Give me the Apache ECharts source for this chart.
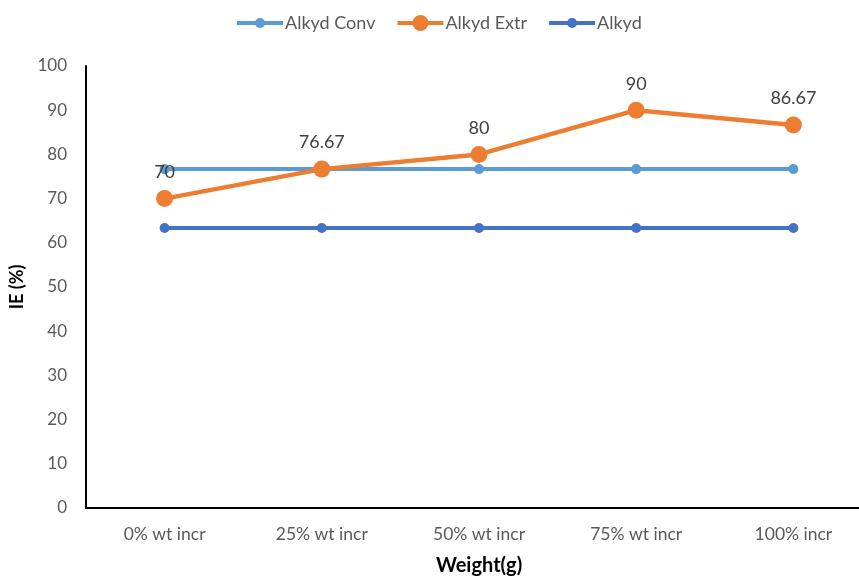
<!DOCTYPE html>
<html>
<head>
<meta charset="utf-8">
<script src="https://cdn.jsdelivr.net/npm/echarts@6/dist/echarts.min.js"></script>
<style>
  html, body { margin: 0; padding: 0; background: #fff; }
  #chart { width: 859px; height: 576px; }
</style>
</head>
<body>
<div id="chart"></div>
<script>
// Inhibition efficiency by weight increment
const categories = ['0% wt incr', '25% wt incr', '50% wt incr', '75% wt incr', '100% incr'];
const alkydConv = [76.67, 76.67, 76.67, 76.67, 76.67];
const alkydExtr = [70, 76.67, 80, 90, 86.67];
const alkyd = [63.33, 63.33, 63.33, 63.33, 63.33];
const yTicks = [0, 10, 20, 30, 40, 50, 60, 70, 80, 90, 100];

const font = 'Lato, "Open Sans", sans-serif';

// Legend glyphs: a thick line with a centred dot, sized like the series markers
const smallIcon = 'path://M0,3 L46,3 L46,7 L0,7 Z M18,5 A5,5 0 1,1 28,5 A5,5 0 1,1 18,5 Z';
const bigIcon = 'path://M0,6 L46,6 L46,10 L0,10 Z M15,8 A8,8 0 1,1 31,8 A8,8 0 1,1 15,8 Z';

const chart = echarts.init(document.getElementById('chart'), null, { renderer: 'canvas' });

chart.setOption({
  animation: false,
  textStyle: { fontFamily: font },
  legend: {
    top: 9,
    left: 232,
    itemWidth: 46,
    itemHeight: 16,
    itemGap: 22,
    symbolKeepAspect: true,
    textStyle: { color: '#595959', fontSize: 18, fontFamily: font, padding: [0, 0, 0, -3] },
    data: [
      { name: 'Alkyd Conv', icon: smallIcon },
      { name: 'Alkyd Extr', icon: bigIcon },
      { name: 'Alkyd', icon: smallIcon }
    ]
  },
  grid: { left: 86, top: 66, right: -13, height: 442, outerBoundsMode: 'none', containLabel: false },
  xAxis: {
    type: 'category',
    data: categories,
    boundaryGap: true,
    name: 'Weight(g)',
    nameLocation: 'middle',
    nameGap: 48,
    nameTextStyle: { color: '#000', fontSize: 20, fontWeight: 'bold', fontFamily: font },
    axisLine: { lineStyle: { color: '#000', width: 2 } },
    axisTick: { show: false },
    axisLabel: { color: '#595959', fontSize: 17.5, margin: 17, fontFamily: font },
    splitLine: { show: false }
  },
  yAxis: {
    type: 'value',
    min: yTicks[0],
    max: yTicks[yTicks.length - 1],
    interval: 10,
    name: 'IE (%)',
    nameLocation: 'middle',
    nameGap: 60,
    nameTextStyle: { color: '#000', fontSize: 18, fontWeight: 'bold', fontFamily: font },
    axisLine: { show: true, lineStyle: { color: '#000', width: 2 } },
    axisTick: { show: false },
    axisLabel: { color: '#595959', fontSize: 17, margin: 19, fontFamily: font },
    splitLine: { show: false }
  },
  series: [
    {
      name: 'Alkyd Conv',
      type: 'line',
      data: alkydConv,
      symbol: 'circle',
      symbolSize: 10,
      color: '#5B9BD5',
      lineStyle: { width: 4, color: '#5B9BD5' },
      itemStyle: { color: '#5B9BD5' },
      z: 2
    },
    {
      name: 'Alkyd Extr',
      type: 'line',
      data: alkydExtr,
      symbol: 'circle',
      symbolSize: 17,
      color: '#ED7D31',
      lineStyle: { width: 4.5, color: '#ED7D31' },
      itemStyle: { color: '#ED7D31' },
      label: {
        show: true,
        position: 'top',
        distance: 9,
        color: '#404040',
        fontSize: 18,
        fontFamily: font
      },
      z: 3
    },
    {
      name: 'Alkyd',
      type: 'line',
      data: alkyd,
      symbol: 'circle',
      symbolSize: 10,
      color: '#4472C4',
      lineStyle: { width: 4, color: '#4472C4' },
      itemStyle: { color: '#4472C4' },
      z: 4
    }
  ]
});
</script>
</body>
</html>
